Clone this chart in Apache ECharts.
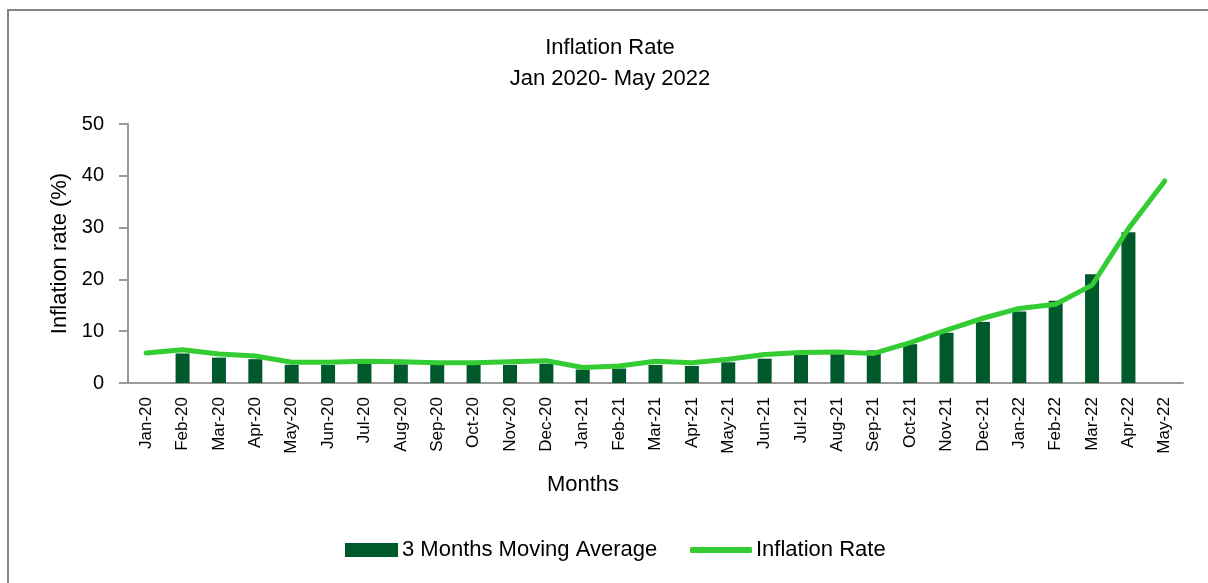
<!DOCTYPE html>
<html>
<head>
<meta charset="utf-8">
<title>Inflation Rate</title>
<script src="https://cdn.jsdelivr.net/npm/echarts@6/dist/echarts.min.js"></script>
<style>
  html, body { margin: 0; padding: 0; background: #fff; }
  #frame { position: absolute; left: 7px; top: 9px; right: 0; bottom: 0; border-left: 2px solid #858585; border-top: 2px solid #858585; }
  #main { position: absolute; left: 0; top: 0; width: 1208px; height: 583px; }
</style>
</head>
<body>
<div id="frame"></div>
<div id="main"></div>
<script>
  // data
  var months = ['Jan-20', 'Feb-20', 'Mar-20', 'Apr-20', 'May-20', 'Jun-20', 'Jul-20', 'Aug-20', 'Sep-20', 'Oct-20',
    'Nov-20', 'Dec-20', 'Jan-21', 'Feb-21', 'Mar-21', 'Apr-21', 'May-21', 'Jun-21', 'Jul-21', 'Aug-21',
    'Sep-21', 'Oct-21', 'Nov-21', 'Dec-21', 'Jan-22', 'Feb-22', 'Mar-22', 'Apr-22', 'May-22'];
  var movingAvg = [null, 5.7, 4.9, 4.6, 3.5, 3.5, 3.8, 3.6, 3.5, 3.5,
    3.5, 3.7, 2.6, 2.8, 3.5, 3.3, 4.0, 4.7, 5.4, 5.6,
    6.3, 7.5, 9.7, 11.8, 13.8, 15.9, 21.0, 29.1, null];
  var inflation = [5.8, 6.4, 5.6, 5.2, 4.0, 4.0, 4.2, 4.1, 3.9, 3.9,
    4.1, 4.3, 3.0, 3.3, 4.2, 3.9, 4.6, 5.5, 5.9, 6.0,
    5.7, 7.8, 10.2, 12.5, 14.4, 15.2, 18.9, 29.8, 39.0];

  var font = 'Liberation Sans, Arial, sans-serif';
  var chart = echarts.init(document.getElementById('main'));

  var option = {
    animation: false,
    textStyle: { fontFamily: font, color: '#000' },
    title: [{
      text: 'Inflation Rate\nJan 2020- May 2022',
      left: 610,
      textAlign: 'center',
      top: 32,
      padding: 0,
      textStyle: { fontFamily: font, fontSize: 22, fontWeight: 'normal', color: '#000', lineHeight: 31 }
    }, {
      text: 'Months',
      left: 583,
      textAlign: 'center',
      top: 474,
      padding: 0,
      textStyle: { fontFamily: font, fontSize: 22, fontWeight: 'normal', color: '#000' }
    }],
    legend: [{
      data: ['3 Months Moving Average'],
      left: 340,
      top: 534,
      icon: 'rect',
      itemWidth: 53,
      itemHeight: 14,
      textStyle: { fontFamily: font, fontSize: 22, color: '#000', padding: [0, 0, 0, -1] }
    }, {
      data: ['Inflation Rate'],
      left: 685,
      top: 534,
      icon: 'roundRect',
      itemWidth: 62,
      itemHeight: 6,
      textStyle: { fontFamily: font, fontSize: 22, color: '#000', padding: [0, 0, 0, -1] }
    }],
    grid: { left: 128, right: 25, top: 124, bottom: 200, containLabel: false },
    xAxis: {
      type: 'category',
      data: months,
      axisLine: { lineStyle: { color: '#999', width: 2 } },
      axisTick: { show: false },
      axisLabel: { rotate: 90, interval: 0, margin: 14, fontSize: 17, color: '#000', fontFamily: font }
    },
    yAxis: {
      type: 'value',
      min: 0,
      max: 50,
      interval: 10,
      name: 'Inflation rate (%)',
      nameLocation: 'middle',
      nameGap: 56,
      nameTextStyle: { fontSize: 22, color: '#000', fontFamily: font },
      splitLine: { show: false },
      axisLine: { show: true, lineStyle: { color: '#999', width: 2 } },
      axisTick: { show: true, length: 9, lineStyle: { color: '#999', width: 2 } },
      axisLabel: { margin: 24, fontSize: 20, color: '#000', fontFamily: font }
    },
    series: [{
      name: '3 Months Moving Average',
      type: 'bar',
      data: movingAvg,
      barWidth: 14,
      itemStyle: { color: '#00592B' }
    }, {
      name: 'Inflation Rate',
      type: 'line',
      data: inflation,
      symbol: 'none',
      showSymbol: false,
      itemStyle: { color: '#33CC33' },
      lineStyle: { color: '#33CC33', width: 5, cap: 'round', join: 'round' }
    }]
  };

  chart.setOption(option);
</script>
</body>
</html>
